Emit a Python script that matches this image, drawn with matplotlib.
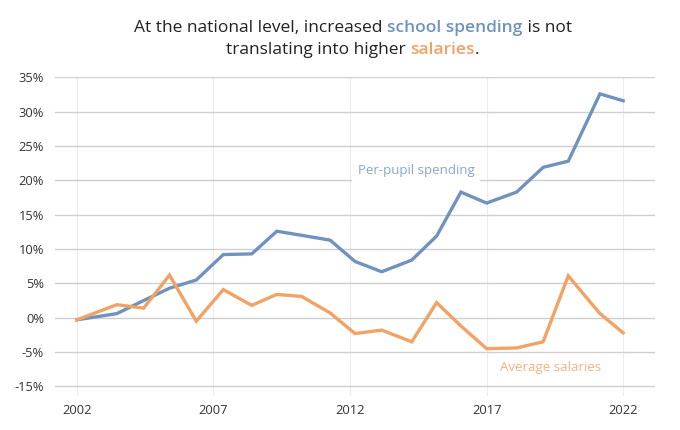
import numpy as np
import matplotlib
matplotlib.use("Agg")
import matplotlib.pyplot as plt

plt.rcParams['font.family'] = ['Open Sans', 'DejaVu Sans']

# data points (positions along the year axis)
years = [2002.0, 2003.46, 2004.44, 2005.39, 2006.37, 2007.36, 2008.40, 2009.32,
         2010.23, 2011.27, 2012.18, 2013.16, 2014.26, 2015.17, 2016.06, 2017.0,
         2018.10, 2019.07, 2019.99, 2021.15, 2022.0]
spending = [-0.3, 0.6, 2.5, 4.3, 5.5, 9.2, 9.3, 12.6, 12.0, 11.3, 8.2, 6.7,
            8.4, 11.9, 18.3, 16.7, 18.3, 21.9, 22.8, 32.6, 31.6]
salaries = [-0.3, 1.9, 1.4, 6.2, -0.5, 4.1, 1.8, 3.4, 3.1, 0.7, -2.3, -1.8,
            -3.5, 2.2, -1.2, -4.5, -4.4, -3.5, 6.1, 0.6, -2.2]

xticks = [2002, 2007, 2012, 2017, 2022]
yticks = [35, 30, 25, 20, 15, 10, 5, 0, -5, -10]
ylabels = ['35%', '30%', '25%', '20%', '15%', '10%', '5%', '0%', '-5%', '-15%']

blue = '#6f93be'
orange = '#f1a264'
blue_txt = '#8ba7c9'
orange_txt = '#f2b282'

fig = plt.figure(figsize=(6.8, 4.3), dpi=100)
ax = fig.add_axes([0.081, 0.079, 0.882, 0.741])

ax.plot(years, spending, color=blue, lw=2.4, solid_joinstyle='miter', zorder=3)
ax.plot(years, salaries, color=orange, lw=2.4, solid_joinstyle='miter', zorder=3)

ax.set_xlim(2001.2, 2023.16)
ax.set_ylim(-11.4, 35)
ax.set_xticks(xticks)
ax.set_yticks(yticks)
ax.set_yticklabels(ylabels)
ax.tick_params(length=0, labelsize=9.3, colors='#333333')
ax.tick_params(axis='y', pad=8)
ax.tick_params(axis='x', pad=6)
for s in ax.spines.values():
    s.set_visible(False)
ax.grid(axis='y', color='#cfcfcf', lw=1.0)
ax.grid(axis='x', color='#ececec', lw=0.8)
ax.set_axisbelow(True)

ax.text(2012.28, 21.5, 'Per-pupil spending', color=blue_txt, fontsize=9.5,
        ha='left', va='center', zorder=2,
        bbox=dict(boxstyle='square,pad=0.45', fc='white', ec='none'))
ax.text(2017.5, -7.3, 'Average salaries', color=orange_txt, fontsize=9.5,
        ha='left', va='center', zorder=2,
        bbox=dict(boxstyle='square,pad=0.45', fc='white', ec='none'))


def colored_line(parts, xc, y, size=12.5):
    # draw a line of text made of differently styled pieces, centred on xc
    r = fig.canvas.get_renderer()
    texts = []
    for s, c, w in parts:
        t = fig.text(0, y, s, color=c, fontsize=size, fontweight=w,
                     ha='left', va='center')
        texts.append(t)
    widths = [t.get_window_extent(r).width for t in texts]
    total = sum(widths)
    x = xc * fig.bbox.width - total / 2
    for t, w in zip(texts, widths):
        t.set_x(x / fig.bbox.width)
        x += w


colored_line([('At the national level, increased ', '#222222', 'normal'),
              ('school spending', blue, 'semibold'),
              (' is not', '#222222', 'normal')], 0.519, 1 - 28 / 430)
colored_line([('translating into higher ', '#222222', 'normal'),
              ('salaries', orange, 'semibold'),
              ('.', '#222222', 'normal')], 0.519, 1 - 50 / 430)

fig.savefig('out.png', dpi=100)
